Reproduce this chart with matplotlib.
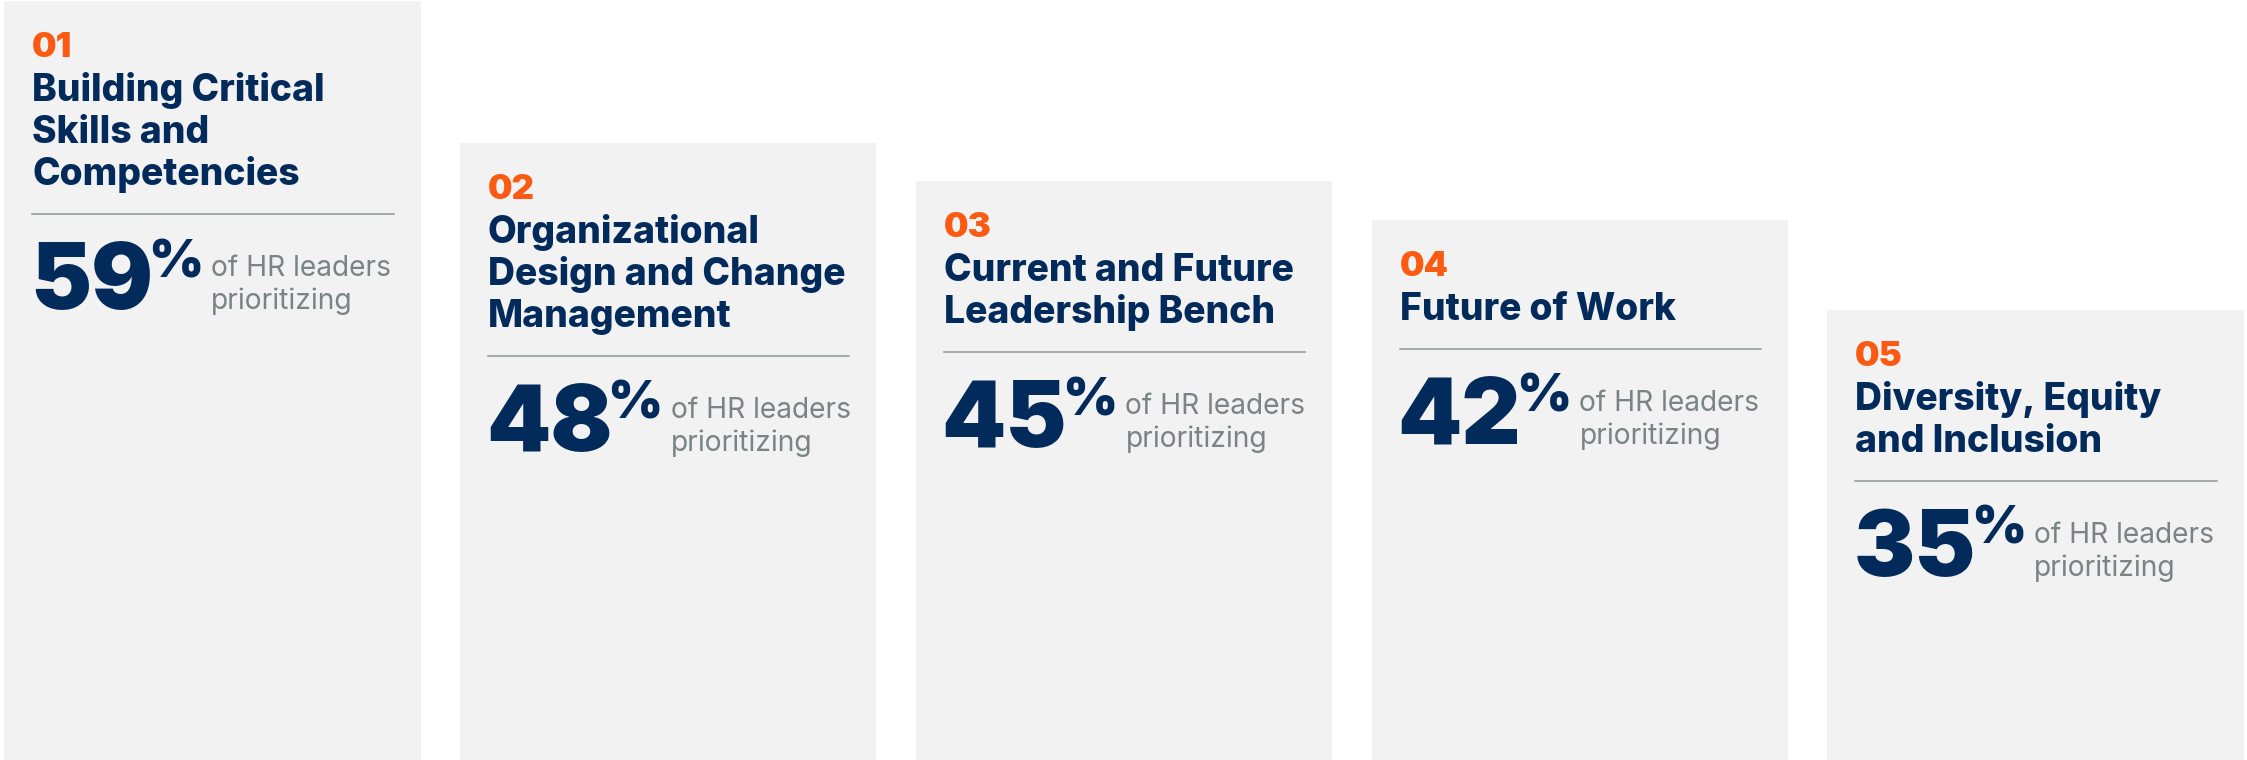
import numpy as np
import matplotlib
matplotlib.use('Agg')
import matplotlib.pyplot as plt
from matplotlib import font_manager
from matplotlib.transforms import ScaledTranslation

# data
ranks = ['01', '02', '03', '04', '05']
titles = [
    ['Building Critical', 'Skills and', 'Competencies'],
    ['Organizational', 'Design and Change', 'Management'],
    ['Current and Future', 'Leadership Bench'],
    ['Future of Work'],
    ['Diversity, Equity', 'and Inclusion'],
]
shares = [59, 48, 45, 42, 35]
caption = ['of HR leaders', 'prioritizing']

NAVY = '#022a5b'
ORANGE = '#fa5a12'
GREY_TXT = '#7a8484'
RULE = '#8f9797'
BAR = '#f2f2f2'

names = sorted({f.name for f in font_manager.fontManager.ttflist})
head_font = 'Inter' if 'Inter' in names else 'DejaVu Sans'

fig = plt.figure(figsize=(22.47, 7.6), dpi=100)
ax = fig.add_axes([0, 0, 1, 1])
ax.axis('off')

x = np.arange(len(shares))
width = 0.914
ax.bar(x, shares, width=width, color=BAR, align='center')
ax.set_xlim(-0.4658, 4.4636)
ax.set_ylim(0, 59.08)

px = 'offset pixels'
unit = 455.8  # pixels per category
for i, (rank, lines, val) in enumerate(zip(ranks, titles, shares)):
    left = x[i] - width / 2
    right = x[i] + width / 2
    ax.annotate(rank, xy=(left, val), xytext=(28, -56), textcoords=px,
                fontsize=25, fontweight='black', color=ORANGE,
                family=head_font, va='baseline', ha='left')
    base = -100
    for j, line in enumerate(lines):
        ax.annotate(line, xy=(left, val), xytext=(28, base - 42 * j), textcoords=px,
                    fontsize=26.8, fontweight='heavy', color=NAVY,
                    family=head_font, va='baseline', ha='left')
    last = base - 42 * (len(lines) - 1)
    sep = last - 29
    # separator rule, offset in pixels from the bar top
    tr = ax.transData + ScaledTranslation(0, sep / fig.dpi, fig.dpi_scale_trans)
    ax.plot([left + 28 / unit, right - 27 / unit], [val, val],
            color=RULE, lw=1.1, transform=tr)

    big = sep - 95
    num = ax.annotate(f'{val}', xy=(left, val), xytext=(26, big), textcoords=px,
                      fontsize=66, fontweight='black', color=NAVY,
                      family=head_font, va='baseline', ha='left')
    pct = ax.annotate('%', xy=(1, val), xycoords=(num, 'data'),
                      xytext=(-5, big + 32), textcoords=px,
                      fontsize=38, fontweight='black', color=NAVY,
                      family=head_font, va='baseline', ha='left')
    ax.annotate(caption[0], xy=(1, val), xycoords=(pct, 'data'),
                xytext=(8, big + 33), textcoords=px,
                fontsize=20.3, fontweight='normal', color=GREY_TXT,
                family=head_font, va='baseline', ha='left')
    ax.annotate(caption[1], xy=(1, val), xycoords=(pct, 'data'),
                xytext=(8, big), textcoords=px,
                fontsize=20.3, fontweight='normal', color=GREY_TXT,
                family=head_font, va='baseline', ha='left')

fig.savefig('out.png', dpi=100)
